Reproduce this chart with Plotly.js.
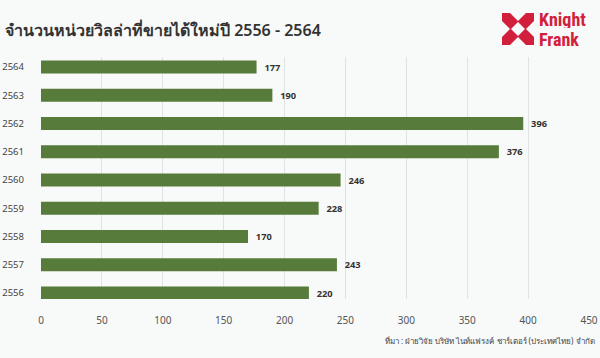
<!DOCTYPE html>
<html><head><meta charset="utf-8">
<script src="https://cdn.plot.ly/plotly-3.0.1.min.js"></script>
<style>html,body{margin:0;padding:0;background:#f8f9f9;}#c{width:600px;height:358px;}</style>
</head><body><div id="c"></div>
<script>
const years = ['2556','2557','2558','2559','2560','2561','2562','2563','2564'];
const units = [220, 243, 170, 228, 246, 376, 396, 190, 177];
const xTicks = [0, 50, 100, 150, 200, 250, 300, 350, 400, 450];
const titleText = 'จำนวนหน่วยวิลล่าที่ขายได้ใหม่ปี 2556 - 2564';
const sourceText = 'ที่มา : ฝ่ายวิจัย บริษัท ไนท์แฟรงค์ ชาร์เตอร์ (ประเทศไทย) จำกัด';

const L = 41, R = 589, T = 57, B = 299;
const px = x => (x - L) / (R - L);
const py = y => (B - y) / (B - T);
const font = '"Noto Sans", "Open Sans", sans-serif';
const red = '#d2203c';

function poly(pts, color) {
  let d = pts.map((p, i) => (i ? 'L' : 'M') + px(p[0]) + ',' + py(p[1])).join(' ') + ' Z';
  return {type: 'path', xref: 'paper', yref: 'paper', path: d, fillcolor: color, line: {width: 0}, layer: 'above'};
}
const cx = 518, cy = 29, h = 16;
const shapes = [
  poly([[cx-h,cy-h],[cx+h,cy-h],[cx+h,cy+h],[cx-h,cy+h]], red),
  poly([[cx,cy-7],[cx+7,cy],[cx,cy+7],[cx-7,cy]], '#f8f9f9'),
  poly([[cx-8,cy-h],[cx+8,cy-h],[cx,cy-h+8]], '#f8f9f9'),
  poly([[cx-8,cy+h],[cx+8,cy+h],[cx,cy+h-8]], '#f8f9f9'),
  poly([[cx-h,cy-8],[cx-h,cy+8],[cx-h+8,cy]], '#f8f9f9'),
  poly([[cx+h,cy-8],[cx+h,cy+8],[cx+h-8,cy]], '#f8f9f9')
];

const data = [{
  type: 'bar', orientation: 'h',
  y: years, x: units,
  marker: {color: '#577b3a'},
  text: units.map(String), texttemplate: '  %{text}', textposition: 'outside',
  textfont: {family: font, size: 10, color: '#333', weight: 'bold'},
  cliponaxis: false, hoverinfo: 'none'
}];

const logoFont = {family: '"Liberation Sans Narrow", "Roboto Condensed", "Roboto", sans-serif', size: 18, color: red, weight: 'bold'};
const layout = {
  width: 600, height: 358,
  margin: {l: L, r: 600 - R, t: T, b: 358 - B, pad: 0},
  paper_bgcolor: '#f8f9f9', plot_bgcolor: '#f8f9f9',
  bargap: 0.54, showlegend: false,
  title: {text: titleText, xref: 'container', x: 5/600, xanchor: 'left', yref: 'container', y: 1 - 30/358, yanchor: 'middle',
          font: {family: font, size: 16, color: '#333', weight: 600}},
  xaxis: {range: [0, 450], tickvals: xTicks, ticktext: xTicks.map(String), showgrid: true, gridcolor: '#e1e3e3', gridwidth: 1,
          zeroline: false, showline: false, ticks: '', ticklabelstandoff: 14,
          tickfont: {family: font, size: 10, color: '#555'}, fixedrange: true},
  yaxis: {type: 'category', categoryorder: 'array', categoryarray: years, range: [-0.212, 8.354],
          showgrid: false, zeroline: false, showline: false, ticks: '', ticklabelstandoff: 16,
          tickfont: {family: font, size: 9.5, color: '#444'}, fixedrange: true},
  shapes: shapes,
  annotations: [
    {text: 'Knight', xref: 'paper', yref: 'paper', x: px(538), y: py(19), xanchor: 'left', yanchor: 'middle', showarrow: false, borderpad: 0,
     height: 18, valign: 'middle', font: logoFont},
    {text: 'Frank', xref: 'paper', yref: 'paper', x: px(538), y: py(39.5), xanchor: 'left', yanchor: 'middle', showarrow: false, borderpad: 0,
     height: 18, valign: 'middle', font: logoFont},
    {text: sourceText, xref: 'paper', yref: 'paper', x: px(597), y: py(340), xanchor: 'right', yanchor: 'middle', showarrow: false,
     font: {family: font, size: 8, color: '#444'}}
  ]
};
Plotly.newPlot('c', data, layout, {staticPlot: true, displayModeBar: false});
</script></body></html>
